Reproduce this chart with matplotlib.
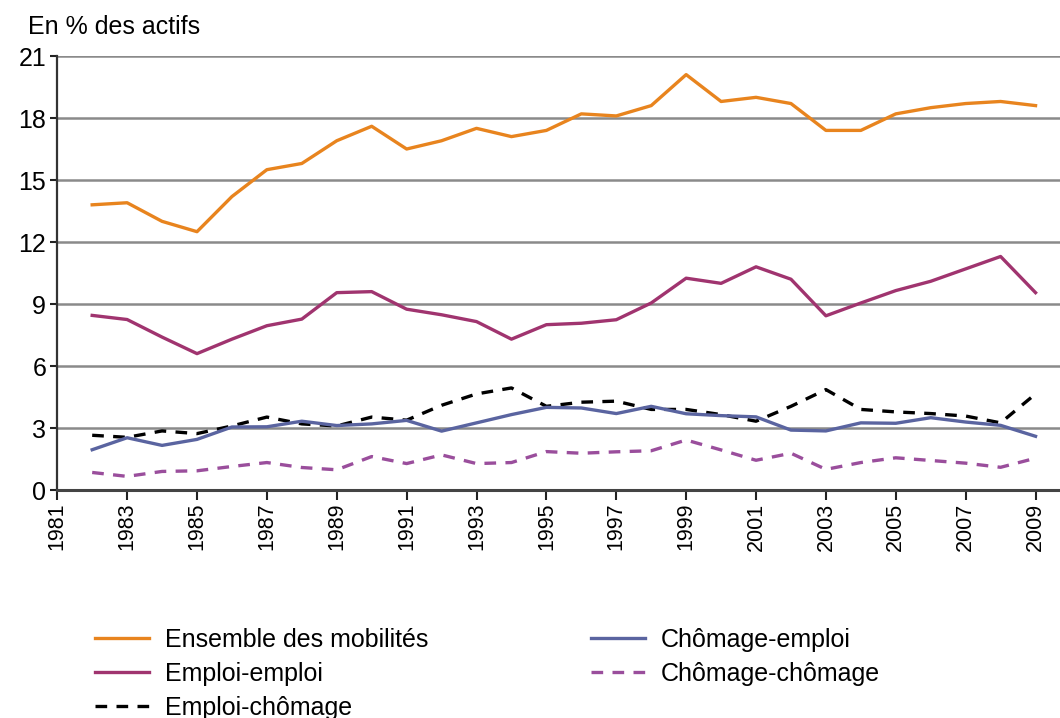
import matplotlib.pyplot as plt
from matplotlib.ticker import MultipleLocator

years = list(range(1982, 2010))

ensemble = [13.8, 13.9, 13.0, 12.5, 14.2, 15.5, 15.8, 16.9, 17.6, 16.5,
            16.9, 17.5, 17.1, 17.4, 18.2, 18.1, 18.6, 20.1, 18.8, 19.0,
            18.7, 17.4, 17.4, 18.2, 18.5, 18.7, 18.8, 18.6]
emploi_emploi = [8.45, 8.25, 7.4, 6.6, 7.3, 7.95, 8.27, 9.55, 9.6, 8.75,
                 8.48, 8.15, 7.3, 8.0, 8.07, 8.24, 9.05, 10.25, 10.0, 10.8,
                 10.2, 8.43, 9.05, 9.65, 10.1, 10.7, 11.3, 9.55]
emploi_chomage = [2.65, 2.55, 2.86, 2.73, 3.1, 3.53, 3.2, 3.1, 3.53, 3.38,
                  4.1, 4.65, 4.94, 4.05, 4.25, 4.3, 3.9, 3.9, 3.65, 3.33,
                  4.05, 4.86, 3.9, 3.78, 3.7, 3.58, 3.25, 4.65]
chomage_emploi = [1.95, 2.53, 2.16, 2.45, 3.05, 3.06, 3.33, 3.12, 3.2, 3.37,
                  2.85, 3.25, 3.65, 4.0, 3.97, 3.7, 4.05, 3.69, 3.6, 3.54,
                  2.9, 2.86, 3.25, 3.23, 3.5, 3.29, 3.13, 2.6]
chomage_chomage = [0.85, 0.66, 0.9, 0.93, 1.14, 1.33, 1.09, 0.98, 1.62, 1.28,
                   1.7, 1.28, 1.33, 1.86, 1.78, 1.85, 1.9, 2.42, 1.94, 1.44,
                   1.78, 1.0, 1.33, 1.56, 1.43, 1.3, 1.1, 1.54]

labels = ["Ensemble des mobilités", "Emploi-emploi", "Emploi-chômage",
          "Chômage-emploi", "Chômage-chômage"]

plt.rcParams['font.family'] = ['Liberation Sans', 'DejaVu Sans']

fig = plt.figure(figsize=(10.6, 7.18), dpi=100)
ax = fig.add_axes([0.054, 0.3175, 0.946, 0.6045])

lw = 2.4
dash = (0, (3.5, 2.8))
ax.plot(years, ensemble, color='#E8841E', lw=lw, label=labels[0], zorder=3)
ax.plot(years, emploi_emploi, color='#A0346F', lw=lw, label=labels[1], zorder=3)
ax.plot(years, emploi_chomage, color='black', lw=lw, ls=dash, label=labels[2], zorder=3)
ax.plot(years, chomage_emploi, color='#5A64A0', lw=lw, label=labels[3], zorder=4)
ax.plot(years, chomage_chomage, color='#9A4E9C', lw=lw, ls=dash, label=labels[4], zorder=3)

ax.set_xlim(1981, 2009.7)
ax.set_ylim(0, 21)
ax.set_xticks(range(1981, 2010, 2))
ax.yaxis.set_major_locator(MultipleLocator(3))
ax.tick_params(axis='x', labelrotation=90, labelsize=15.5, length=7, width=1.5,
               direction='out', color='#222222', pad=2)
ax.tick_params(axis='y', labelsize=18, length=5, width=1.5, color='#222222', pad=3)
ax.grid(axis='y', color='#8a8a8a', lw=1.8, zorder=1)
for s in ['top', 'right']:
    ax.spines[s].set_visible(False)
ax.spines['left'].set_color('#333333')
ax.spines['left'].set_linewidth(1.6)
ax.spines['bottom'].set_color('#444444')
ax.spines['bottom'].set_linewidth(2.2)

fig.text(0.026, 0.962, "En % des actifs", fontsize=18, va='center', ha='left')

fig.legend(loc='upper left', bbox_to_anchor=(95 / 1060, 1 - 628 / 718),
           ncol=2, frameon=False, fontsize=18, handlelength=2.15,
           handletextpad=0.65, columnspacing=6.5, labelspacing=0.4,
           borderpad=0, borderaxespad=0)

fig.savefig('out.png', dpi=100, facecolor='white')
